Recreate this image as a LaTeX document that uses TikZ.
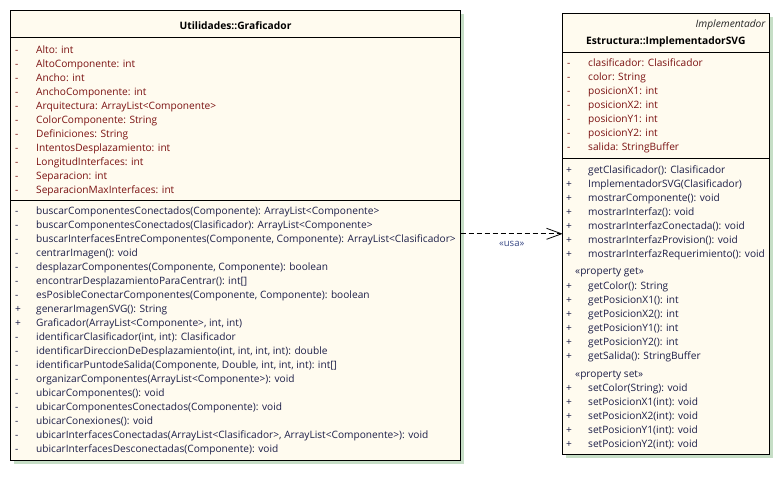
\documentclass[tikz,border=0pt]{standalone}
\usepackage{fontspec}
\setmainfont{Open Sans}
\usetikzlibrary{arrows.meta}
\definecolor{boxfill}{HTML}{FFFBEF}
\definecolor{shadowc}{HTML}{C6DEC6}
\definecolor{attrc}{HTML}{7A1010}
\definecolor{opc}{HTML}{1C1E48}
\definecolor{usac}{HTML}{3A4A86}
\tikzset{
  umlbox/.style={draw=black, line width=1pt, fill=boxfill, inner sep=0pt, outer sep=0pt},
  vis/.style={anchor=base west, inner sep=0pt, font=\fontsize{10.15}{11}\selectfont},
  member/.style={anchor=base west, inner sep=0pt, font=\fontsize{10.15}{11}\selectfont},
  sect/.style={line width=1pt},
}
\begin{document}
\begin{tikzpicture}[x=1pt,y=-1pt]
\useasboundingbox (0,0) rectangle (779,491);
% shadows
\fill[shadowc] (14,14) rectangle (464,463.5);
\fill[shadowc] (566.2,16.8) rectangle (772.5,457.8);
% boxes
\node[umlbox, minimum width=450pt, minimum height=449.5pt, anchor=north west] (graf) at (10.5,10.5) {};
\node[umlbox, minimum width=206.3pt, minimum height=441pt, anchor=north west] (impl) at (562.7,13.3) {};
% left box
\node[font=\fontsize{10.25}{11}\selectfont\bfseries, anchor=base, inner sep=0pt] (graftitle) at (235.5,29.8) {Utilidades::Graficador};
\draw[sect] (10.5,37.7) -- (460.5,37.7);
\draw[sect] (10.5,200) -- (460.5,200);
\foreach \v/\t [count=\i from 0] in {
 -/{Alto: int},
 -/{AltoComponente: int},
 -/{Ancho: int},
 -/{AnchoComponente: int},
 -/{Arquitectura: ArrayList<Componente>},
 -/{ColorComponente: String},
 -/{Definiciones: String},
 -/{IntentosDesplazamiento: int},
 -/{LongitudInterfaces: int},
 -/{Separacion: int},
 -/{SeparacionMaxInterfaces: int}}{
  \node[vis, text=attrc] (ga\i v) at (15,53+14*\i) {\v};
  \node[member, text=attrc] (ga\i) at (36,53+14*\i) {\t};
}
\foreach \v/\t [count=\i from 0] in {
 -/{buscarComponentesConectados(Componente): ArrayList<Componente>},
 -/{buscarComponentesConectados(Clasificador): ArrayList<Componente>},
 -/{buscarInterfacesEntreComponentes(Componente, Componente): ArrayList<Clasificador>},
 -/{centrarImagen(): void},
 -/{desplazarComponentes(Componente, Componente): boolean},
 -/{encontrarDesplazamientoParaCentrar(): int[]},
 -/{esPosibleConectarComponentes(Componente, Componente): boolean},
 +/{generarImagenSVG(): String},
 +/{Graficador(ArrayList<Componente>, int, int)},
 -/{identificarClasificador(int, int): Clasificador},
 -/{identificarDireccionDeDesplazamiento(int, int, int, int): double},
 -/{identificarPuntodeSalida(Componente, Double, int, int, int): int[]},
 -/{organizarComponentes(ArrayList<Componente>): void},
 -/{ubicarComponentes(): void},
 -/{ubicarComponentesConectados(Componente): void},
 -/{ubicarConexiones(): void},
 -/{ubicarInterfacesConectadas(ArrayList<Clasificador>, ArrayList<Componente>): void},
 -/{ubicarInterfacesDesconectadas(Componente): void}}{
  \node[vis, text=opc] (go\i v) at (15,214.4+14*\i) {\v};
  \node[member, text=opc] (go\i) at (36,214.4+14*\i) {\t};
}
% right box
\node[font=\fontsize{10.2}{11}\selectfont\itshape, anchor=base east, inner sep=0pt, text=black!85] (stereo) at (765.7,27) {Implementador};
\node[font=\fontsize{10.25}{11}\selectfont\bfseries, anchor=base, inner sep=0pt] (impltitle) at (665.8,44.8) {Estructura::ImplementadorSVG};
\draw[sect] (562.7,52.3) -- (769,52.3);
\draw[sect] (562.7,158.3) -- (769,158.3);
\foreach \v/\t [count=\i from 0] in {
 -/{clasificador: Clasificador},
 -/{color: String},
 -/{posicionX1: int},
 -/{posicionX2: int},
 -/{posicionY1: int},
 -/{posicionY2: int},
 -/{salida: StringBuffer}}{
  \node[vis, text=attrc] (ia\i v) at (567,66.8+14*\i) {\v};
  \node[member, text=attrc] (ia\i) at (588,66.8+14*\i) {\t};
}
\foreach \v/\t [count=\i from 0] in {
 +/{getClasificador(): Clasificador},
 +/{ImplementadorSVG(Clasificador)},
 +/{mostrarComponente(): void},
 +/{mostrarInterfaz(): void},
 +/{mostrarInterfazConectada(): void},
 +/{mostrarInterfazProvision(): void},
 +/{mostrarInterfazRequerimiento(): void}}{
  \node[vis, text=opc] (io\i v) at (566,173+14*\i) {\v};
  \node[member, text=opc] (io\i) at (588,173+14*\i) {\t};
}
\node[member, text=opc] (pget) at (575,274.4) {«property get»};
\foreach \t [count=\i from 0] in {
 {getColor(): String},
 {getPosicionX1(): int},
 {getPosicionX2(): int},
 {getPosicionY1(): int},
 {getPosicionY2(): int},
 {getSalida(): StringBuffer}}{
  \node[vis, text=opc] (ig\i v) at (566,289.4+14*\i) {+};
  \node[member, text=opc] (ig\i) at (588,289.4+14*\i) {\t};
}
\node[member, text=opc] (pset) at (575,377) {«property set»};
\foreach \t [count=\i from 0] in {
 {setColor(String): void},
 {setPosicionX1(int): void},
 {setPosicionX2(int): void},
 {setPosicionY1(int): void},
 {setPosicionY2(int): void}}{
  \node[vis, text=opc] (is\i v) at (566,391+14*\i) {+};
  \node[member, text=opc] (is\i) at (588,391+14*\i) {\t};
}
% dependency
\draw[line width=0.8pt, dash pattern=on 5pt off 3pt, -{Straight Barb[length=15pt,width=11pt,line width=0.8pt]}]
  (graf.east |- impl.west) -- (impl.west);
\node[font=\fontsize{9.6}{10}\selectfont, text=usac, inner sep=0pt] (usa) at (511.7,244.3) {«usa»};
\end{tikzpicture}
\end{document}
